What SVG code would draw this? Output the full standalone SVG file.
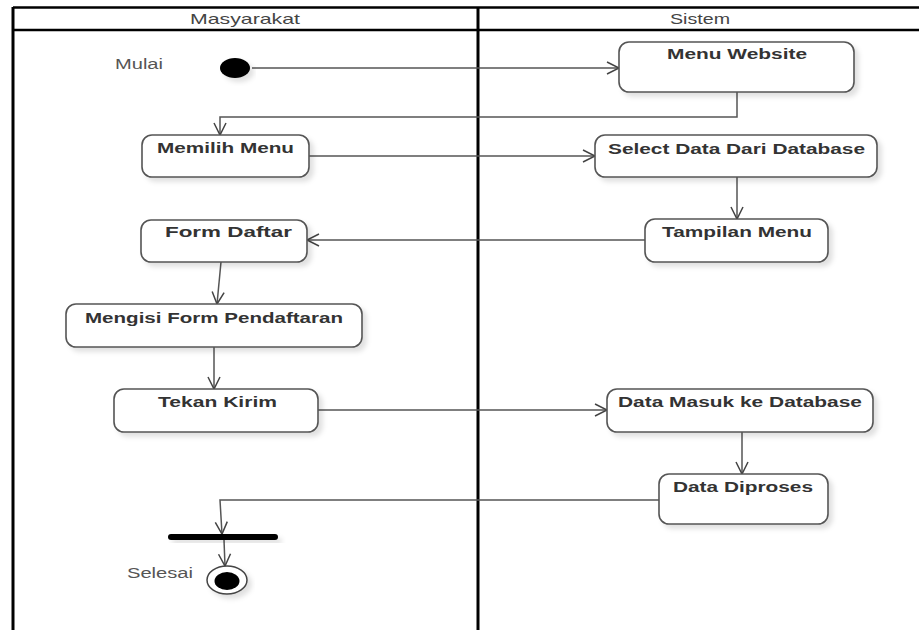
<svg xmlns="http://www.w3.org/2000/svg" width="919" height="630" viewBox="0 0 919 630">
<style>
.frame{stroke:#000;fill:none}
.hdr{font-family:"Liberation Sans",Arial,sans-serif;font-size:14.5px;fill:#444}
.lbl{font-family:"Liberation Sans",Arial,sans-serif;font-size:14.5px;font-weight:bold;fill:#333}
.cap{font-family:"Liberation Sans",Arial,sans-serif;font-size:14px;fill:#555}
.box{fill:#fff;stroke:#555;stroke-width:1.6}
.edge{fill:none;stroke:#555;stroke-width:1.5}
</style>
<defs>
<marker id="arr" markerUnits="userSpaceOnUse" markerWidth="16" markerHeight="16" refX="13" refY="7" orient="auto">
<path d="M1,1 L13,7 L1,13" fill="none" stroke="#444" stroke-width="1.5"/>
</marker>
<filter id="sh" x="-10%" y="-20%" width="130%" height="160%">
<feDropShadow dx="4" dy="4" stdDeviation="2.5" flood-color="#000" flood-opacity="0.12"/>
</filter>
</defs>
<rect width="919" height="630" fill="#fff"/>
<g id="lanes">
<line class="frame" x1="13" y1="7.5" x2="919" y2="7.5" stroke-width="2.5"/>
<line class="frame" x1="13" y1="30" x2="919" y2="30" stroke-width="2.5"/>
<line class="frame" x1="13" y1="7" x2="13" y2="630" stroke-width="3"/>
<line class="frame" x1="478" y1="7" x2="478" y2="630" stroke-width="3"/>
<text class="hdr" x="245" y="24" text-anchor="middle" textLength="110" lengthAdjust="spacingAndGlyphs">Masyarakat</text>
<text class="hdr" x="700" y="24" text-anchor="middle" textLength="60" lengthAdjust="spacingAndGlyphs">Sistem</text>
</g>
<g id="connectors">
<path class="edge" d="M252,68 L619,68" marker-end="url(#arr)"/>
<path class="edge" d="M737,92 L737,117 L220,117 L220,135" marker-end="url(#arr)"/>
<path class="edge" d="M309,156 L595,156" marker-end="url(#arr)"/>
<path class="edge" d="M737,177 L737,219" marker-end="url(#arr)"/>
<path class="edge" d="M645,240 L307,240" marker-end="url(#arr)"/>
<path class="edge" d="M221,262 L217,304" marker-end="url(#arr)"/>
<path class="edge" d="M214,347 L214,389" marker-end="url(#arr)"/>
<path class="edge" d="M318,410 L607,410" marker-end="url(#arr)"/>
<path class="edge" d="M742,432 L742,474" marker-end="url(#arr)"/>
<path class="edge" d="M659,500 L220,500 L222,534" marker-end="url(#arr)"/>
<path class="edge" d="M224,540 L225,566" marker-end="url(#arr)"/>
</g>
<g id="start">
<text class="cap" x="115" y="69" textLength="48" lengthAdjust="spacingAndGlyphs">Mulai</text>
<ellipse cx="235" cy="68" rx="15" ry="10" fill="#000" filter="url(#sh)"/>
</g>
<g id="menu-website">
<rect class="box" x="619" y="42" width="235" height="50" rx="10" filter="url(#sh)"/>
<text class="lbl" x="737" y="59" text-anchor="middle" textLength="140" lengthAdjust="spacingAndGlyphs">Menu Website</text>
</g>
<g id="memilih-menu">
<rect class="box" x="142" y="135" width="167" height="42" rx="10" filter="url(#sh)"/>
<text class="lbl" x="225.5" y="153" text-anchor="middle" textLength="137" lengthAdjust="spacingAndGlyphs">Memilih Menu</text>
</g>
<g id="select-data">
<rect class="box" x="595" y="135" width="282" height="42" rx="10" filter="url(#sh)"/>
<text class="lbl" x="736.5" y="154" text-anchor="middle" textLength="257" lengthAdjust="spacingAndGlyphs">Select Data Dari Database</text>
</g>
<g id="tampilan-menu">
<rect class="box" x="645" y="219" width="183" height="43" rx="10" filter="url(#sh)"/>
<text class="lbl" x="737" y="237" text-anchor="middle" textLength="150" lengthAdjust="spacingAndGlyphs">Tampilan Menu</text>
</g>
<g id="form-daftar">
<rect class="box" x="141" y="220" width="166" height="42" rx="10" filter="url(#sh)"/>
<text class="lbl" x="228.5" y="237" text-anchor="middle" textLength="127" lengthAdjust="spacingAndGlyphs">Form Daftar</text>
</g>
<g id="mengisi-form">
<rect class="box" x="66" y="304" width="296" height="43" rx="10" filter="url(#sh)"/>
<text class="lbl" x="214" y="323" text-anchor="middle" textLength="258" lengthAdjust="spacingAndGlyphs">Mengisi Form Pendaftaran</text>
</g>
<g id="tekan-kirim">
<rect class="box" x="114" y="389" width="204" height="43" rx="10" filter="url(#sh)"/>
<text class="lbl" x="217.5" y="407" text-anchor="middle" textLength="119" lengthAdjust="spacingAndGlyphs">Tekan Kirim</text>
</g>
<g id="data-masuk">
<rect class="box" x="607" y="389" width="266" height="43" rx="10" filter="url(#sh)"/>
<text class="lbl" x="740" y="407" text-anchor="middle" textLength="244" lengthAdjust="spacingAndGlyphs">Data Masuk ke Database</text>
</g>
<g id="data-diproses">
<rect class="box" x="659" y="474" width="169" height="50" rx="10" filter="url(#sh)"/>
<text class="lbl" x="743" y="492" text-anchor="middle" textLength="140" lengthAdjust="spacingAndGlyphs">Data Diproses</text>
</g>
<g id="join-bar">
<rect x="168" y="534" width="110" height="6" rx="3" fill="#000" filter="url(#sh)"/>
</g>
<g id="end">
<text class="cap" x="127" y="578" textLength="66" lengthAdjust="spacingAndGlyphs">Selesai</text>
<ellipse cx="227" cy="580" rx="20" ry="14" fill="#fff" stroke="#444" stroke-width="1.5" filter="url(#sh)"/>
<ellipse cx="227" cy="581" rx="12.5" ry="9" fill="#000"/>
</g>
</svg>
